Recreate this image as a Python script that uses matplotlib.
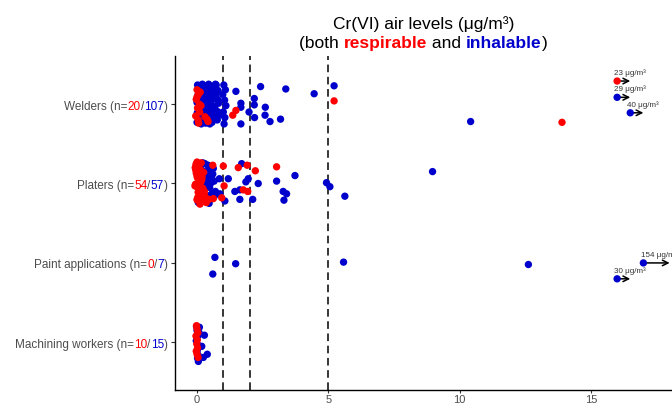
import matplotlib
matplotlib.use("Agg")
import matplotlib.pyplot as plt
from matplotlib.transforms import ScaledTranslation, blended_transform_factory

plt.rcParams['font.family'] = ['Liberation Sans', 'DejaVu Sans']

RED = '#FF0000'
BLUE = '#0000CD'
GRAY = '#4D4D4D'

# categories from bottom (1) to top (4)
groups = ["Machining workers", "Paint applications", "Platers", "Welders"]
n_resp = [10, 0, 54, 20]
n_inh = [15, 7, 57, 107]
limits = [1, 2, 5]

# Welders, inhalable (blue): values and vertical jitter
welders_inh = [5.22, 3.38, 4.46, 2.42, 1.48, 2.18, 2.18, 1.67, 1.67, 1.98,
               2.60, 2.59, 2.19, 2.78, 3.18, 1.67, 10.42,
               1.02, 1.08, 0.98, 1.05, 1.10, 1.00, 1.06, 1.03,
               0.02, 0.10, 0.18, 0.30, 0.42, 0.55, 0.68, 0.80, 0.05, 0.25,
               0.38, 0.50, 0.62, 0.75, 0.00, 0.14, 0.33, 0.47, 0.58, 0.70,
               0.08, 0.21, 0.36, 0.45, 0.60, 0.78, 0.03, 0.16, 0.28, 0.52,
               0.66, 0.85, 0.11, 0.24, 0.40, 0.57, 0.72, 0.01, 0.19, 0.35,
               0.48, 0.63, 0.82, 0.06, 0.29, 0.44, 0.54, 0.69, 0.13, 0.31,
               0.02, 0.22, 0.39, 0.51, 0.65, 0.77, 0.09, 0.27, 0.43, 0.59,
               0.73, 0.04, 0.17, 0.34, 0.49, 0.61, 0.80, 0.12, 0.26, 0.41,
               0.56, 0.67, 0.00, 0.20, 0.37, 0.53, 0.71, 0.07, 0.32, 0.46]
welders_inh_jit = [0.23, 0.19, 0.13, 0.22, 0.16, 0.07, -0.01, 0.01, -0.04, -0.10,
                   -0.04, -0.14, -0.17, -0.22, -0.19, -0.25, -0.22,
                   0.24, 0.18, 0.12, 0.05, -0.02, -0.10, -0.17, -0.25,
                   0.24, -0.12, 0.05, 0.20, -0.22, 0.10, -0.03, 0.17, -0.18, -0.07,
                   0.13, -0.15, 0.22, -0.09, 0.02, 0.19, -0.24, 0.08, -0.02, 0.25,
                   -0.20, 0.15, -0.10, 0.00, -0.17, 0.06, 0.11, -0.25, 0.23, 0.18,
                   -0.06, -0.14, 0.03, -0.19, 0.16, -0.23, 0.12, -0.11, 0.09, 0.21,
                   -0.04, 0.07, 0.01, 0.14, -0.13, 0.25, -0.21, -0.16, -0.01, 0.04,
                   -0.15, -0.03, -0.18, 0.21, 0.09, -0.20, 0.23, 0.12, 0.19, -0.08,
                   0.24, 0.08, -0.08, -0.05, -0.25, 0.16, -0.10, -0.22, 0.02, 0.11,
                   -0.12, 0.20, -0.23, 0.25, 0.07, 0.03, 0.15, 0.16, -0.17, 0.24]

# Welders, respirable (red)
welders_resp = [5.22, 13.90, 1.48, 1.36,
                0.00, 0.05, -0.03, 0.08, 0.02, 0.10, -0.05, 0.04,
                0.42, 0.38, 0.12, 0.00, 0.06, 0.30, 0.15]
welders_resp_jit = [0.04, -0.23, -0.08, -0.14,
                    0.18, 0.12, 0.06, 0.00, -0.05, -0.10, -0.15, -0.20,
                    -0.22, -0.19, 0.15, 0.09, -0.24, -0.16, -0.02]

# Platers, inhalable
platers_inh = [1.70, 3.73, 4.93, 5.06, 5.63, 3.03, 3.28, 3.41, 3.31, 2.33,
               1.95, 1.86, 1.19, 0.85, 1.44, 1.63, 1.63, 1.06, 2.12, 0.87, 8.97,
               0.30, 0.45, 0.20, 0.55, 0.10, 0.35, 0.60, 0.25, 0.50, 0.15,
               0.40, 0.65, 0.05, 0.32, 0.48, 0.22, 0.58, 0.12, 0.38, 0.52,
               0.28, 0.70, 0.08, 0.42, 0.18, 0.62, 0.34, 0.46, 0.02, 0.56,
               0.26, 0.44, 0.14, 0.36, 0.54, 0.66]
platers_inh_jit = [0.25, 0.10, 0.01, -0.04, -0.16, 0.03, -0.10, -0.13, -0.21, 0.00,
                   0.06, 0.02, 0.06, 0.06, -0.10, -0.08, -0.20, -0.22, -0.20, -0.13, 0.15,
                   0.25, 0.20, 0.14, 0.08, 0.22, -0.02, 0.12, -0.08, -0.15, 0.18,
                   -0.20, 0.03, -0.24, 0.10, -0.05, 0.26, -0.12, 0.06, -0.18, 0.16,
                   -0.22, -0.10, 0.00, 0.23, -0.13, 0.19, 0.04, -0.25, 0.12, -0.19,
                   0.15, 0.09, -0.06, -0.23, 0.01, -0.16]

# Platers, respirable
platers_resp = [1.00, 1.57, 1.91, 2.22, 3.03, 0.60, 1.03, 1.76, 1.93, 0.94, 0.62, 0.22,
                0.00, 0.05, -0.05, 0.10, 0.02, 0.15, -0.08, 0.08, 0.20, 0.03,
                0.12, -0.02, 0.06, 0.25, 0.00, 0.09, -0.06, 0.14, 0.04, 0.30,
                0.01, 0.11, -0.04, 0.07, 0.18, 0.02, 0.22, -0.07, 0.13, 0.05,
                0.28, 0.00, 0.16, -0.03, 0.10, 0.35, 0.04, 0.19, 0.08, 0.45,
                0.26, 0.12]
platers_resp_jit = [0.22, 0.20, 0.23, 0.16, 0.21, 0.23, -0.03, -0.08, -0.10, -0.18, -0.19, -0.06,
                    0.27, 0.22, 0.17, 0.12, 0.07, 0.02, -0.03, -0.08, -0.13, -0.18,
                    -0.23, 0.25, 0.19, 0.14, 0.09, 0.04, -0.01, -0.06, -0.11, -0.16,
                    -0.21, -0.26, 0.24, 0.15, 0.05, -0.05, -0.15, 0.20, 0.10, 0.00,
                    -0.10, -0.20, 0.26, 0.13, -0.02, -0.24, -0.17, 0.08, -0.12, -0.20,
                    -0.19, 0.18]

# Paint applications, inhalable
paint_inh = [0.68, 1.47, 0.60, 5.58, 12.62]
paint_inh_jit = [0.07, -0.01, -0.14, 0.01, -0.02]

# Machining workers
machining_inh = [0.09, 0.28, 0.18, 0.39, 0.24, 0.05,
                 0.00, 0.03, -0.03, 0.06, 0.01, 0.04, -0.02, 0.08, 0.02]
machining_inh_jit = [0.19, 0.09, -0.05, -0.15, -0.19, -0.24,
                     0.15, 0.08, 0.02, -0.04, -0.10, -0.16, 0.20, 0.12, -0.20]
machining_resp = [-0.02, 0.00, 0.03, -0.04, 0.01, -0.01, 0.02, -0.03, 0.00, 0.04]
machining_resp_jit = [0.21, 0.17, 0.12, 0.08, 0.03, -0.02, -0.07, -0.11, -0.15, -0.19]

# values beyond the axis, drawn at the right edge with an arrow
out_group = [4, 4, 4, 2, 2]
out_kind = ['resp', 'inh', 'inh', 'inh', 'inh']
out_value = [23, 29, 40, 154, 30]
out_shown = [16.0, 16.0, 16.5, 17.0, 16.0]
out_arrow = [0.5, 0.5, 0.5, 1.0, 0.5]
out_jit = [0.29, 0.085, -0.11, 0.0, -0.20]

inh_series = [(welders_inh, welders_inh_jit, 4), (platers_inh, platers_inh_jit, 3),
              (paint_inh, paint_inh_jit, 2), (machining_inh, machining_inh_jit, 1)]
resp_series = [(welders_resp, welders_resp_jit, 4), (platers_resp, platers_resp_jit, 3),
               (machining_resp, machining_resp_jit, 1)]

fig = plt.figure(figsize=(6.72, 4.06), dpi=100)
ax = fig.add_axes([0.2604, 0.0369, 0.7396, 0.8217])
ax.set_xlim(-0.84, 18.09)
ax.set_ylim(0.4, 4.6)

for v in limits:
    ax.axvline(v, color='black', lw=1.1, ls=(0, (5, 3)), zorder=1)

for vals, jit, g in inh_series:
    ax.scatter(vals, [g + j for j in jit], s=28, color=BLUE, edgecolors='none', zorder=3)
for vals, jit, g in resp_series:
    ax.scatter(vals, [g + j for j in jit], s=28, color=RED, edgecolors='none', zorder=4)

for g, k, val, xs, L, j in zip(out_group, out_kind, out_value, out_shown, out_arrow, out_jit):
    y = g + j
    ax.annotate('', xy=(xs + L, y), xytext=(xs, y),
                arrowprops=dict(arrowstyle='->', color='black', lw=1.1,
                                shrinkA=0, shrinkB=0), zorder=2)
    ax.scatter([xs], [y], s=28, color=RED if k == 'resp' else BLUE,
               edgecolors='none', zorder=4)
    ax.annotate(f"{val} μg/m³", xy=(xs, y), xytext=(-2, 3.5), textcoords='offset points',
                ha='left', va='bottom', fontsize=5.8, color='#333333')

for s in ['top', 'right']:
    ax.spines[s].set_visible(False)
for s in ['left', 'bottom']:
    ax.spines[s].set_linewidth(1.0)

ax.set_xticks([0, 5, 10, 15])
ax.set_yticks([1, 2, 3, 4])
ax.set_yticklabels([])
ax.tick_params(axis='both', length=3, width=0.8, color='#333333')
ax.tick_params(axis='x', length=2.5, labelsize=8, labelcolor=GRAY, pad=0.5)

renderer = fig.canvas.get_renderer()


def text_width(s, size, weight):
    t = fig.text(0, 0, '|' + s + '|', fontsize=size, fontweight=weight)
    w1 = t.get_window_extent(renderer).width
    t.remove()
    t = fig.text(0, 0, '||', fontsize=size, fontweight=weight)
    w0 = t.get_window_extent(renderer).width
    t.remove()
    return w1 - w0


def draw_parts(parts, x, y, transform, ha, size, va='baseline'):
    # left edge of each part, measured on the joined prefix when the weight does not change
    lefts = []
    if len({w for _, _, w in parts}) == 1:
        w = parts[0][2]
        prefix = ''
        for s, _, _ in parts:
            lefts.append(text_width(prefix, size, w))
            prefix += s
        total = text_width(prefix, size, w)
    else:
        acc = 0
        for s, _, w in parts:
            lefts.append(acc)
            acc += text_width(s, size, w)
        total = acc
    start = -total if ha == 'right' else (-total / 2 if ha == 'center' else 0)
    for (s, c, w), left in zip(parts, lefts):
        tr = transform + ScaledTranslation((start + left) / fig.dpi, 0, fig.dpi_scale_trans)
        ax.text(x, y, s, transform=tr, ha='left', va=va, fontsize=size,
                fontweight=w, color=c, clip_on=False)


ytr = ax.get_yaxis_transform() + ScaledTranslation(-7 / fig.dpi, 0, fig.dpi_scale_trans)
for i, name in enumerate(groups):
    parts = [(f"{name} (n=", GRAY, 'normal'), (str(n_resp[i]), RED, 'normal'),
             ("/", GRAY, 'normal'), (str(n_inh[i]), BLUE, 'normal'), (")", GRAY, 'normal')]
    draw_parts(parts, 0, i + 1, ytr, 'right', 8.5, va='center_baseline')

ttr = blended_transform_factory(ax.transAxes, fig.transFigure)
draw_parts([("Cr(VI) air levels (μg/m³)", 'black', 'normal')], 0.5, (406 - 29) / 406, ttr, 'center', 12.5)
draw_parts([("(both ", 'black', 'normal'), ("respirable", RED, 'bold'), (" and ", 'black', 'normal'),
            ("inhalable", BLUE, 'bold'), (")", 'black', 'normal')],
           0.5, (406 - 48) / 406, ttr, 'center', 12.5)

fig.savefig('out.png', dpi=100)
